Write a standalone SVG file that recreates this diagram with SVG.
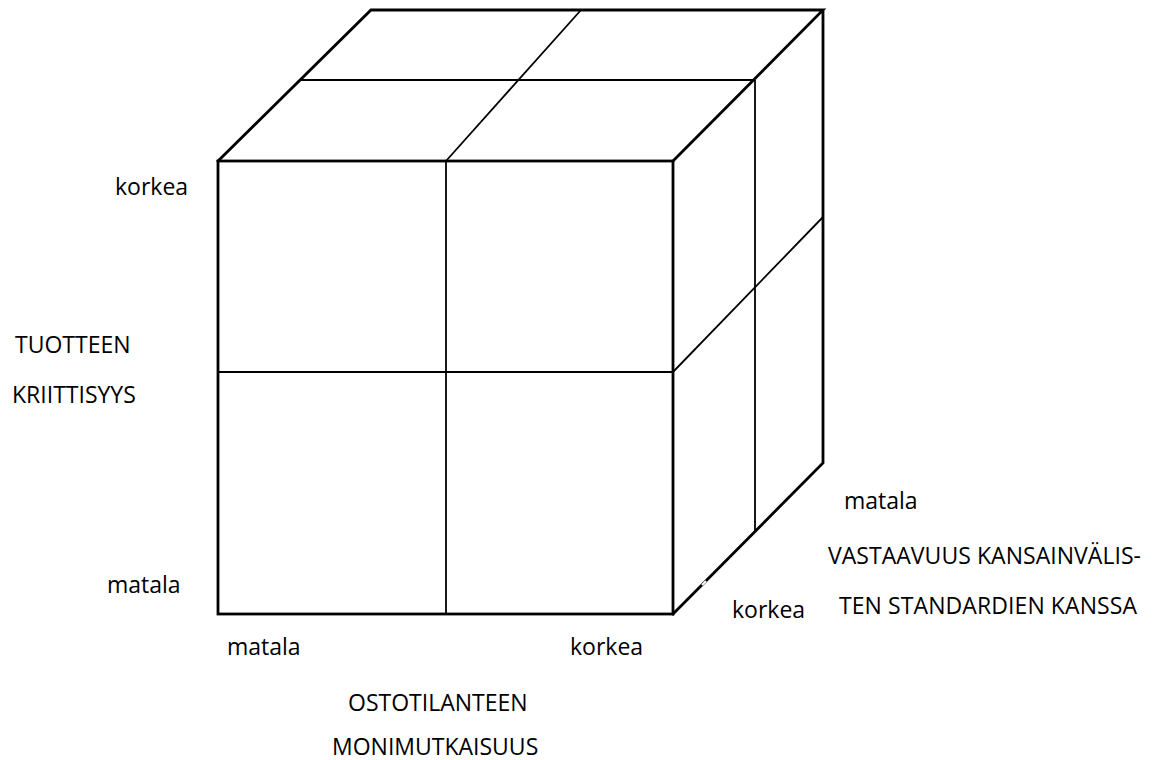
<svg xmlns="http://www.w3.org/2000/svg" width="1161" height="760" viewBox="0 0 1161 760">
<style>
.outer{fill:none;stroke:#000;stroke-width:2.8;stroke-linejoin:miter;stroke-linecap:square}
.inner{fill:none;stroke:#000;stroke-width:1.8}
text{font-family:"Open Sans","Noto Sans",sans-serif;font-size:23px;fill:#000}
</style>
<rect width="1161" height="760" fill="#fff"/>
<g id="cube">
  <g id="inner-lines">
    <line class="inner" x1="446" y1="161" x2="581" y2="10"/>
    <line class="inner" x1="301" y1="80" x2="755" y2="80"/>
    <line class="inner" x1="755" y1="80" x2="755" y2="532"/>
    <line class="inner" x1="446" y1="161" x2="446" y2="614"/>
    <line class="inner" x1="218" y1="372" x2="673" y2="372"/>
    <line class="inner" x1="673" y1="372" x2="823" y2="217"/>
  </g>
  <g id="outer-edges">
    <rect class="outer" x="218" y="161" width="455" height="453"/>
    <path class="outer" d="M218,161 L371,10 L823,10 L673,161 M823,10 L823,463 L673,614"/>
  </g>
  <line x1="702" y1="585" x2="706" y2="581" stroke="#fff" stroke-width="2"/>
</g>
<g id="labels">
  <text x="115" y="195">korkea</text>
  <text x="15" y="353">TUOTTEEN</text>
  <text x="12" y="403">KRIITTISYYS</text>
  <text x="107" y="593">matala</text>
  <text x="227" y="655">matala</text>
  <text x="570" y="655">korkea</text>
  <text x="348" y="711">OSTOTILANTEEN</text>
  <text x="332" y="755">MONIMUTKAISUUS</text>
  <text x="844" y="509">matala</text>
  <text x="828" y="564" textLength="313">VASTAAVUUS KANSAINVÄLIS-</text>
  <text x="839" y="614" textLength="298">TEN STANDARDIEN KANSSA</text>
  <text x="732" y="618">korkea</text>
</g>
</svg>
